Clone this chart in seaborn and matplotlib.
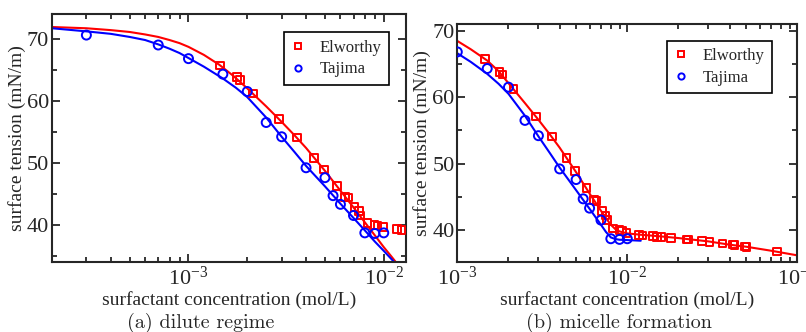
import numpy as np
import pandas as pd
import matplotlib
matplotlib.use("Agg")
import matplotlib.pyplot as plt
import seaborn as sns
from matplotlib.lines import Line2D
from matplotlib.ticker import LogLocator, MultipleLocator, NullFormatter

# ---------------- data ----------------
elw_c = [1.45e-3, 1.77e-3, 1.84e-3, 2.14e-3, 2.90e-3, 3.60e-3, 4.40e-3, 4.93e-3,
         5.75e-3, 6.35e-3, 6.6e-3, 7.07e-3, 7.45e-3, 7.6e-3, 8.27e-3, 8.98e-3,
         9.27e-3, 9.9e-3, 1.17e-2, 1.23e-2, 1.42e-2, 1.49e-2, 1.59e-2, 1.81e-2,
         2.23e-2, 2.28e-2, 2.74e-2, 3.04e-2, 3.64e-2, 4.17e-2, 4.28e-2, 4.92e-2,
         5.03e-2, 7.62e-2]
elw_y = [65.7, 63.8, 63.4, 61.2, 57.1, 54.1, 50.8, 48.9, 46.3, 44.5, 44.4, 42.9,
         42.2, 41.5, 40.25, 40.0, 39.9, 39.6, 39.3, 39.2, 39.1, 39.0, 39.0, 38.8,
         38.6, 38.6, 38.4, 38.2, 38.0, 37.85, 37.8, 37.55, 37.5, 36.8]

taj_c = [3e-4, 7e-4, 1e-3, 1.5e-3, 2e-3, 2.5e-3, 3e-3, 4e-3, 5e-3, 5.5e-3, 6e-3,
         7e-3, 8e-3, 9e-3, 1e-2]
taj_y = [70.6, 69.0, 66.8, 64.3, 61.5, 56.5, 54.2, 49.2, 47.6, 44.7, 43.3, 41.5,
         38.7, 38.6, 38.7]

# fitted curves, panel (a)
fitA_red_c = [2e-4, 3e-4, 4e-4, 5e-4, 6e-4, 7e-4, 8e-4, 9e-4, 1e-3, 1.2e-3, 1.44e-3,
              1.7e-3, 2e-3, 2.5e-3, 3e-3, 3.5e-3, 4e-3, 5e-3, 6e-3, 7e-3, 8e-3,
              9e-3, 1e-2, 1.1e-2, 1.2e-2]
fitA_red_y = [71.9, 71.7, 71.4, 71.1, 70.7, 70.3, 69.8, 69.3, 68.7, 67.4, 65.8,
              64.0, 62.0, 59.1, 56.6, 54.4, 52.4, 48.7, 45.5, 42.8, 40.4,
              38.3, 36.4, 34.8, 33.3]
fitA_blue_c = [2e-4, 3e-4, 4e-4, 5e-4, 6e-4, 7e-4, 8e-4, 9e-4, 1e-3, 1.2e-3, 1.5e-3,
               1.75e-3, 2e-3, 2.5e-3, 3e-3, 3.5e-3, 4e-3, 5e-3, 6e-3, 7e-3, 8e-3,
               9e-3, 1e-2, 1.1e-2, 1.2e-2]
fitA_blue_y = [71.7, 71.2, 70.8, 70.3, 69.8, 69.1, 68.4, 67.7, 66.9, 65.5, 63.6,
               62.1, 60.6, 57.3, 54.2, 51.7, 49.5, 46.2, 43.4, 41.1, 39.1,
               37.3, 35.8, 34.4, 33.1]

# fitted curves, panel (b)
fitB_red_c = [1e-3, 1.2e-3, 1.5e-3, 1.75e-3, 2e-3, 2.5e-3, 3e-3, 3.5e-3, 4e-3,
              5e-3, 6e-3, 7e-3, 7.5e-3, 8e-3, 8.5e-3, 9e-3, 1e-2, 1.2e-2, 1.5e-2,
              2e-2, 3e-2, 4e-2, 5e-2, 7e-2, 1e-1]
fitB_red_y = [68.45, 67.2, 65.5, 63.9, 62.1, 59.1, 56.6, 54.4, 52.4,
              48.7, 45.5, 42.9, 41.8, 40.8, 40.15, 39.8, 39.5, 39.3, 39.1,
              38.8, 38.3, 37.8, 37.5, 36.9, 36.2]
fitB_blue_c = [1e-3, 1.2e-3, 1.5e-3, 1.75e-3, 2e-3, 2.5e-3, 3e-3, 3.5e-3, 4e-3,
               5e-3, 6e-3, 7e-3, 7.5e-3, 8e-3, 8.5e-3, 9e-3, 1e-2, 1.2e-2]
fitB_blue_y = [66.6, 65.3, 63.5, 62.0, 60.5, 57.2, 54.1, 51.6, 49.4,
               46.0, 43.2, 40.8, 39.7, 38.9, 38.65, 38.55, 38.5, 38.4]

series_names = ["Elworthy", "Tajima"]
captions = ["(a) dilute regime", "(b) micelle formation"]
xlabel = "surfactant concentration (mol/L)"
ylabel = "surface tension (mN/m)"

# ---------------- style ----------------
sns.set_style("ticks")
plt.rcParams["font.family"] = ["Liberation Serif", "DejaVu Serif"]
plt.rcParams["mathtext.fontset"] = "stix"
plt.rcParams["axes.linewidth"] = 1.5

RED = "#ff0000"
BLUE = "#0000ff"
colors = {"Elworthy": RED, "Tajima": BLUE}
marks = {"Elworthy": "s", "Tajima": "o"}

pts = {
    "Elworthy": pd.DataFrame({"c": elw_c, "y": elw_y}),
    "Tajima": pd.DataFrame({"c": taj_c, "y": taj_y}),
}
sizes = {"Elworthy": 30, "Tajima": 42}

fig = plt.figure(figsize=(8.06, 3.32), dpi=100)
axA = fig.add_axes([52 / 806, 1 - 262 / 332, 354 / 806, 248 / 332])
axB = fig.add_axes([457.3 / 806, 1 - 262 / 332, 340 / 806, 238 / 332])


def draw(ax, rc, ry, bc, by, xlim, ylim, leg_anchor):
    ax.set_xscale("log")
    sns.lineplot(x=rc, y=ry, ax=ax, color=RED, lw=1.5, sort=False,
                 estimator=None, legend=False)
    sns.lineplot(x=bc, y=by, ax=ax, color=BLUE, lw=1.5, sort=False,
                 estimator=None, legend=False)
    for name in series_names:
        sns.scatterplot(data=pts[name], x="c", y="y", marker=marks[name],
                        s=sizes[name], facecolor="none", edgecolor=colors[name],
                        linewidth=1.4, ax=ax, zorder=3, legend=False)
    ax.set_xlim(*xlim)
    ax.set_ylim(*ylim)
    ax.yaxis.set_major_locator(MultipleLocator(10))
    ax.yaxis.set_minor_locator(MultipleLocator(5))
    ax.xaxis.set_major_locator(LogLocator(base=10, numticks=10))
    ax.xaxis.set_minor_locator(LogLocator(base=10, subs=np.arange(2, 10), numticks=20))
    ax.xaxis.set_minor_formatter(NullFormatter())
    ax.tick_params(which="both", direction="in", top=True, right=True,
                   width=1.3, labelsize=16)
    ax.tick_params(which="major", length=6, pad=2)
    ax.tick_params(which="minor", length=3.5)
    ax.tick_params(axis="x", which="major", pad=3)
    ax.set_xlabel(xlabel, fontsize=14, labelpad=1)
    ax.set_ylabel(ylabel, fontsize=14, labelpad=1)
    handles = [Line2D([], [], ls="none", marker=marks[n], markersize=4.5,
                      markerfacecolor="none", markeredgecolor=colors[n],
                      markeredgewidth=1.4) for n in series_names]
    leg = ax.legend(handles, series_names, loc="upper right",
                    bbox_to_anchor=leg_anchor, borderaxespad=0, frameon=True,
                    fancybox=False, fontsize=12, handletextpad=0.9,
                    borderpad=0.45, labelspacing=0.35, handlelength=0.8)
    leg.get_frame().set_edgecolor("black")
    leg.get_frame().set_linewidth(1.2)
    leg.get_frame().set_alpha(1)


draw(axA, fitA_red_c, fitA_red_y, fitA_blue_c, fitA_blue_y,
     (2e-4, 1.3e-2), (34, 74), (0.952, 0.927))
draw(axB, fitB_red_c, fitB_red_y, fitB_blue_c, fitB_blue_y,
     (1e-3, 1e-1), (35.2, 71), (0.925, 0.930))

fig.text(201 / 806, 1 - 323 / 332, captions[0], ha="center", va="center",
         fontsize=14.5, family=["cmr10", "DejaVu Serif"])
fig.text(619 / 806, 1 - 323 / 332, captions[1], ha="center", va="center",
         fontsize=14.5, family=["cmr10", "DejaVu Serif"])

fig.savefig("out.png", dpi=100)
